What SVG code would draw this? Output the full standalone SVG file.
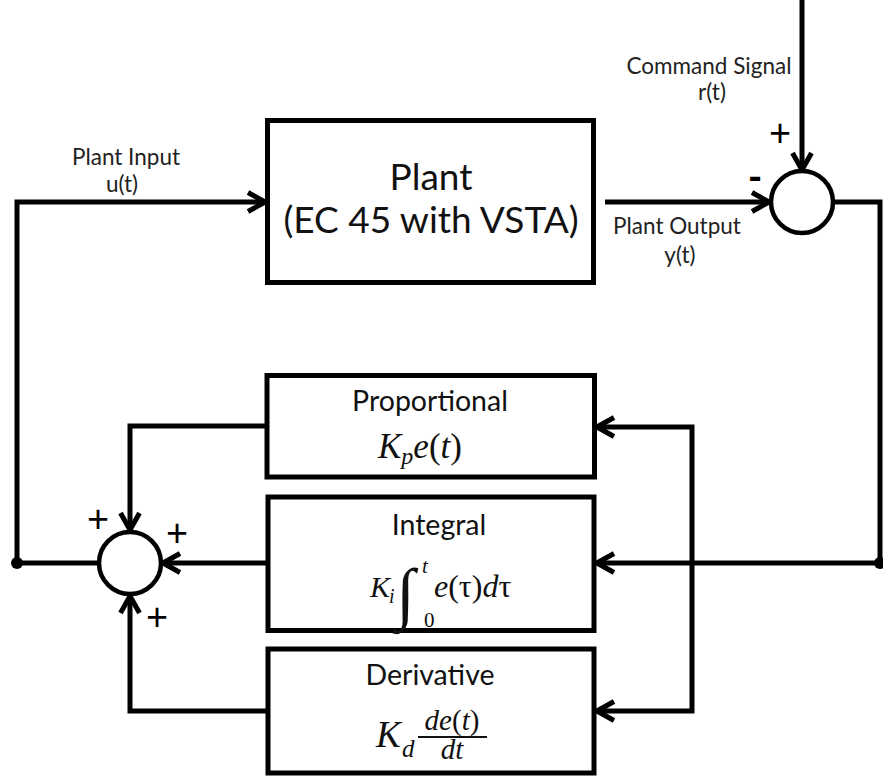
<svg xmlns="http://www.w3.org/2000/svg" width="883" height="777" viewBox="0 0 883 777">
<defs>
<style>
.box{fill:#fff;stroke:#000;stroke-width:5}
.sum{fill:#fff;stroke:#000;stroke-width:4.5}
.wire{fill:none;stroke:#000;stroke-width:5;stroke-linejoin:miter}
.arr{marker-end:url(#chev)}
.lbl{font-family:Lato,"Open Sans",sans-serif;font-size:22.5px;fill:#222;text-anchor:middle}
.ttl{font-family:Lato,"Open Sans",sans-serif;font-size:28.5px;fill:#111;text-anchor:middle}
.big{font-family:Lato,"Open Sans",sans-serif;font-size:37px;fill:#111;text-anchor:middle}
.sgn{font-family:Lato,"Open Sans",sans-serif;font-size:38px;fill:#000;text-anchor:middle}
.math{font-family:"Liberation Serif","DejaVu Serif",serif;fill:#111}
.it{font-style:italic}
</style>
<marker id="chev" markerUnits="userSpaceOnUse" viewBox="0 0 24 24" markerWidth="24" markerHeight="24" refX="20" refY="12" orient="auto">
<path d="M3,2.5 L20,12 L3,21.5" fill="none" stroke="#000" stroke-width="5" stroke-linejoin="miter"/>
</marker>
</defs>
<rect width="883" height="777" fill="#fff"/>

<g id="connectors">
<path class="wire arr" d="M802,0 V170"/>
<path class="wire arr" d="M605,202 H769"/>
<path class="wire arr" d="M834,202 H880 V563 H597"/>
<path class="wire arr" d="M692,563 V427 H597"/>
<path class="wire arr" d="M692,563 V711 H597"/>
<path class="wire arr" d="M17,563 V202 H265"/>
<path class="wire" d="M17,563 H99"/>
<path class="wire arr" d="M266,426 H130 V530"/>
<path class="wire arr" d="M266,563 H163"/>
<path class="wire arr" d="M266,711 H130 V596"/>
<circle cx="17" cy="563" r="6" fill="#000"/>
<circle cx="880" cy="563" r="6" fill="#000"/>
</g>

<g id="labels">
<text class="lbl" x="709" y="74">Command Signal</text>
<text class="lbl" x="712" y="100">r(t)</text>
<text class="lbl" x="126" y="165">Plant Input</text>
<text class="lbl" x="122" y="192">u(t)</text>
<text class="lbl" x="677" y="234">Plant Output</text>
<text class="lbl" x="680" y="263">y(t)</text>
</g>

<g id="plant">
<rect class="box" x="267.5" y="120.5" width="326" height="162"/>
<text class="big" x="431" y="190">Plant</text>
<text class="big" x="431" y="233">(EC 45 with VSTA)</text>
</g>

<g id="error-sum">
<circle class="sum" cx="802" cy="202" r="31"/>
<text class="sgn" x="780" y="146">+</text>
<text class="sgn" x="755" y="190" font-size="42" font-weight="900">-</text>
</g>

<g id="pid-sum">
<circle class="sum" cx="130" cy="563" r="31"/>
<text class="sgn" x="98" y="532">+</text>
<text class="sgn" x="177" y="546">+</text>
<text class="sgn" x="157" y="630">+</text>
</g>

<g id="proportional">
<rect class="box" x="267" y="375.5" width="327.5" height="101.5"/>
<text class="ttl" x="430" y="411">Proportional</text>
<text class="math" x="378" y="458" font-size="35"><tspan class="it">K</tspan><tspan class="it" font-size="24" dy="6">p</tspan><tspan class="it" dy="-6">e</tspan>(<tspan class="it">t</tspan>)</text>
</g>

<g id="integral">
<rect class="box" x="268" y="497" width="326" height="133.5"/>
<text class="ttl" x="439" y="535">Integral</text>
<text class="math it" x="370" y="597" font-size="30">K</text>
<text class="math it" x="389" y="603" font-size="20">i</text>
<text class="math" x="396" y="616" font-size="68" font-weight="normal">∫</text>
<text class="math it" x="422" y="573" font-size="21">t</text>
<text class="math" x="424" y="627" font-size="21">0</text>
<text class="math" x="434" y="597" font-size="32"><tspan class="it">e</tspan>(τ)<tspan class="it">d</tspan>τ</text>
</g>

<g id="derivative">
<rect class="box" x="268" y="649" width="326" height="124"/>
<text class="ttl" x="430" y="685">Derivative</text>
<text class="math it" x="376" y="747" font-size="37">K</text>
<text class="math it" x="402" y="757" font-size="25">d</text>
<text class="math" x="452" y="730" font-size="29" text-anchor="middle"><tspan class="it">de</tspan>(<tspan class="it">t</tspan>)</text>
<line x1="418" y1="737" x2="487" y2="737" stroke="#111" stroke-width="1.8"/>
<text class="math it" x="452" y="759" font-size="29" text-anchor="middle">dt</text>
</g>
</svg>
